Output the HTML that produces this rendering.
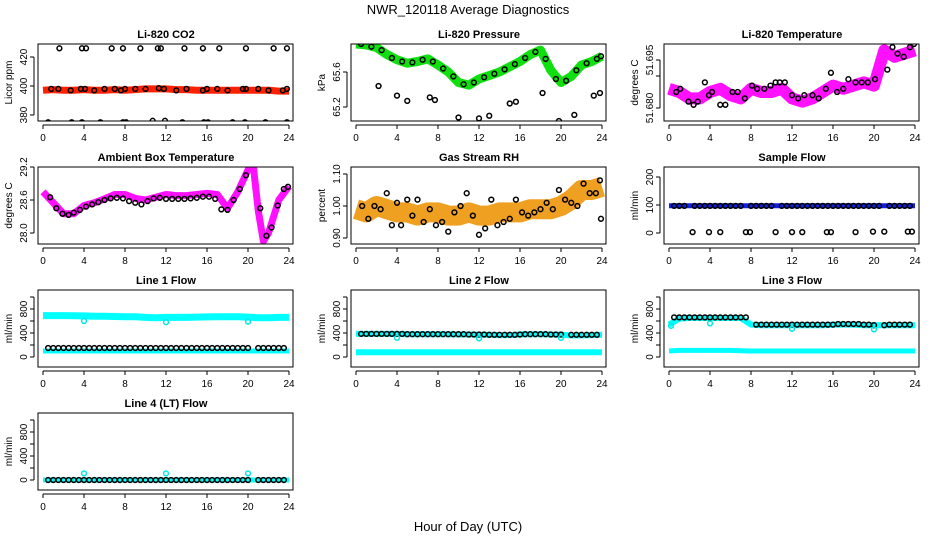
<!DOCTYPE html>
<html><head><meta charset="utf-8"><title>NWR_120118 Average Diagnostics</title>
<style>
html,body{margin:0;padding:0;background:#fff;}
svg{display:block;font-family:"Liberation Sans",sans-serif;}
</style></head>
<body>
<svg id="chart" width="936" height="540" viewBox="0 0 936 540" xmlns="http://www.w3.org/2000/svg">
<defs id="defs"></defs>
<text x="468" y="14" font-size="13" text-anchor="middle">NWR_120118  Average Diagnostics</text>
<text x="468" y="531" font-size="13" text-anchor="middle">Hour of Day (UTC)</text>
</svg>
<script>
// ---- shared categories ----
const H = [0,1,2,3,4,5,6,7,8,9,10,11,12,13,14,15,16,17,18,19,20,21,22,23,24];
const HH = [0.5,1,1.5,2,2.5,3,3.5,4,4.5,5,5.5,6,6.5,7,7.5,8,8.5,9,9.5,10,10.5,11,11.5,12,12.5,13,13.5,14,14.5,15,15.5,16,16.5,17,17.5,18,18.5,19,19.5,20,20.5,21,21.5,22,22.5,23,23.5];
const xTicks = [0,4,8,12,16,20,24];

// ---- CO2 ----
const co2Band = [397,397.5,397,397,397.5,397,397,397.5,397,397.5,398,398,398,397.5,397.5,397,397,397,397,397,397,397,397,396.5,396.5];
const co2BlackH = [0.8,1.5,2.7,3.7,4.1,5,6,7,7.6,8,9,10,11.3,11.8,13,14,15.6,16,17,18,19.5,19.8,21,22,23.4,23.8,1.6,3.8,4.2,6.7,7.8,9.5,11.2,11.5,13.8,15.6,17.2,19.8,22.5,23.8,0.5,2.8,3.8,5.6,7.8,8.1,10.7,11.9,13.6,15.7,16.1,18.5,19.7,21.7,23.8];
const co2BlackV = [398,398,397,398,398,397,398,398,397,398,398,398,398.5,398,397,398,397,398,398,397,398,398,398,397,397,398,426,426,426,426,426,426,426,426,426,426,426,426,426,426,375,375,375,375,375,375,376,376,375,375,375,375,375,375,375];
const co2Ticks = [380,400,420];

// ---- Pressure ----
const presBand = [65.92,65.91,65.88,65.8,65.74,65.7,65.72,65.75,65.68,65.6,65.48,65.45,65.52,65.56,65.6,65.66,65.72,65.8,65.85,65.62,65.48,65.55,65.68,65.72,65.78];
const presBlackH = [0.5,1.5,2.5,3.5,4.5,5.5,6.5,7.5,8.5,9.5,10.5,11.5,12.5,13.5,14.5,15.5,16.5,17.5,18.5,19.5,20.5,21.5,22.5,23.5,23.9,2.2,4,5,7.2,7.7,10,12,13,15,15.6,18.2,19.8,21.3,23.2,23.8];
const presBlackV = [65.92,65.89,65.85,65.76,65.72,65.71,65.74,65.72,65.64,65.55,65.46,65.48,65.54,65.58,65.63,65.69,65.76,65.83,65.75,65.52,65.5,65.62,65.7,65.75,65.78,65.44,65.33,65.27,65.31,65.28,65.08,65.07,65.1,65.24,65.26,65.36,65.04,65.11,65.33,65.36];
const presTicks = [65.2,65.6];

// ---- Li-820 Temperature ----
const tempBand = [51.686,51.685,51.683,51.683,51.685,51.686,51.684,51.683,51.686,51.685,51.685,51.686,51.683,51.682,51.683,51.685,51.687,51.686,51.687,51.688,51.687,51.698,51.696,51.697,51.698];
const tempBlackH = [0.7,1.1,1.9,2.4,2.8,3.5,3.9,4.2,5,5.5,6.2,6.7,7.4,8.1,8.6,9.3,9.9,10.4,10.8,11.3,12,12.6,13.2,14,14.6,15.3,15.8,16.4,17,17.5,18.2,18.8,19.4,20.1,21.3,21.8,22.3,22.9,23.5,23.9];
const tempBlackV = [51.685,51.686,51.682,51.681,51.682,51.688,51.684,51.685,51.681,51.681,51.685,51.685,51.683,51.687,51.686,51.686,51.687,51.688,51.688,51.688,51.684,51.683,51.684,51.684,51.683,51.686,51.691,51.685,51.686,51.689,51.688,51.688,51.688,51.689,51.692,51.699,51.697,51.696,51.699,51.700];
const tempTicks = [51.680,51.695];
const tempMinor = [51.680,51.690,51.695];

// ---- Ambient Box Temperature ----
const ambH = [0,1,2,3,4,5,6,7,8,9,10,11,12,13,14,15,16,17,18,19,20,20.5,21,21.5,22,23,24];
const ambBand = [28.75,28.55,28.35,28.35,28.5,28.55,28.62,28.7,28.7,28.63,28.6,28.65,28.7,28.68,28.68,28.7,28.72,28.7,28.45,28.75,29.15,29.25,28.4,27.85,28.0,28.6,28.85];
const ambBlackH = [0.7,1.3,1.9,2.5,3,3.6,4.2,4.8,5.4,6,6.6,7.2,7.8,8.4,9,9.6,10.2,10.8,11.4,12,12.6,13.2,13.8,14.4,15,15.6,16.2,16.8,17.4,18,18.6,19.2,19.8,21.2,21.8,22.3,22.9,23.5,23.9];
const ambBlackV = [28.65,28.45,28.35,28.33,28.37,28.42,28.48,28.52,28.56,28.6,28.63,28.64,28.63,28.58,28.55,28.52,28.58,28.63,28.64,28.62,28.62,28.62,28.62,28.63,28.64,28.66,28.66,28.62,28.43,28.42,28.6,28.8,29.05,28.45,27.95,28.1,28.5,28.8,28.84];
const ambTicks = [28.0,28.6,29.2];

// ---- Gas Stream RH ----
const rhBand = [0.99,0.98,1.0,0.99,0.98,0.98,0.97,0.98,0.98,0.97,0.97,0.98,0.97,0.97,0.98,0.98,0.98,0.99,0.99,0.99,1.0,1.02,1.05,1.05,1.06];
const rhBlackH = [0.6,1.2,1.8,2.4,3,3.5,4,4.4,5,5.5,6,6.6,7.2,7.8,8.4,9,9.6,10.2,10.8,11.4,12,12.6,13.2,13.8,14.4,15,15.6,16.2,16.8,17.4,18,18.6,19.2,19.8,20.4,21,21.6,22.2,22.8,23.4,23.8,23.9];
const rhBlackV = [1.0,0.96,1.0,0.99,1.04,0.94,1.01,0.94,1.02,0.97,1.02,0.95,0.99,0.94,0.95,0.92,0.98,1.0,1.04,0.97,0.91,0.93,1.02,0.94,0.95,0.96,1.02,0.98,0.97,0.98,0.99,1.01,0.99,1.05,1.02,1.01,1.0,1.07,1.04,1.04,1.08,0.96];
const rhTicks = [0.90,1.00,1.10];

// ---- Sample Flow ----
const sfBand = [97,97,97,97,97,97,97,97,97,97,97,97,97,97,97,97,97,97,97,97,97,97,97,97,97];
const sfBlack = [97,97,97,null,97,97,97,97,97,97,97,97,97,97,null,97,97,97,97,97,null,97,97,97,97,97,97,97,97,97,97,97,97,97,97,97,97,97,97,97,97,null,97,97,97,97,97];
const sfZeroH = [2.3,3.9,5,7.5,7.9,10.4,12,13,15.4,15.8,18.2,19.9,21,23.3,23.7];
const sfZeroV = [3,3,3,3,3,3,3,3,3,3,3,5,5,5,5];
const sfTicks = [0,100,200];

// ---- Line flows ----
const l1Upper = [690,690,690,688,685,680,678,675,672,670,660,655,660,660,660,665,668,670,670,670,665,655,655,660,660];
const l1Lower = [100,100,100,100,100,100,100,100,100,100,100,100,100,100,100,100,100,100,100,100,100,100,100,100,100];
const l1Black = [150,150,150,150,150,150,150,150,150,150,150,150,150,150,150,150,150,150,150,150,150,150,150,150,150,150,150,150,150,150,150,150,150,150,150,150,150,150,150,150,null,150,150,150,150,150,150];
const l1OutH = [4,12,20];
const l1OutV = [600,580,590];

const l2Upper = [385,385,385,385,385,380,380,380,380,380,375,375,370,370,365,365,375,380,380,375,370,360,360,365,370];
const l2Lower = [80,80,80,80,80,80,80,80,80,80,80,80,80,80,80,80,80,80,80,80,80,80,80,80,80];
const l2Black = [385,385,385,385,385,385,385,385,385,380,380,380,380,380,380,380,380,380,380,380,380,375,375,375,375,370,370,370,370,370,370,375,380,380,380,380,380,375,375,375,null,370,370,370,370,370,370];
const l2OutH = [4,12,20];
const l2OutV = [320,310,320];

const l3Upper = [540,640,650,650,650,650,650,650,540,530,530,530,530,530,530,530,540,540,540,530,530,530,530,530,530];
const l3Lower = [100,110,110,110,110,110,110,105,100,100,100,100,100,100,100,100,100,100,100,100,100,100,100,100,100];
const l3Black = [660,660,660,660,660,660,660,660,660,660,660,660,660,660,660,null,540,540,540,540,540,540,540,540,540,540,540,540,540,540,540,540,550,550,550,550,550,540,540,530,null,530,540,540,540,540,540];
const l3OutH = [0.2,4,12,20];
const l3OutV = [520,560,470,460];

const l4Band = [0,0,0,0,0,0,0,0,0,0,0,0,0,0,0,0,0,0,0,0,0,0,0,0,0];
const l4Black = [0,0,0,0,0,0,0,0,0,0,0,0,0,0,0,0,0,0,0,0,0,0,0,0,0,0,0,0,0,0,0,0,0,0,0,0,0,0,0,0,null,0,0,0,0,0,0];
const l4OutH = [4,12,20];
const l4OutV = [110,110,110];
const flowTicks = [0,400,800];
const flowMinor = [0,200,400,600,800,1000];

// ---- layout ----
const svg = document.getElementById('chart');
const defs = document.getElementById('defs');
const NS = 'http://www.w3.org/2000/svg';
const COLX = [43,356,669];
const ROWY = [[44,121],[167,244],[290,367],[413,490]];
function mk(tag, attrs, parent){ const e=document.createElementNS(NS,tag); for(const k in attrs) e.setAttribute(k,attrs[k]); (parent||svg).appendChild(e); return e; }

function panel(col,row,key,title,ylab,yA,pA,yB,pB,ticks,minor,tickLabels){
  const x0=COLX[col], x1=x0+246, top=ROWY[row][0], bot=ROWY[row][1];
  const g=mk('g',{});
  
  
  const sx=h=>x0+(x1-x0)*h/24;
  const sy=v=>pA+(v-yA)*(pB-pA)/(yB-yA);
  const cp=mk('clipPath',{id:'clip-'+key},defs);
  mk('rect',{x:x0-5,y:top,width:x1-x0+9,height:bot-top},cp);
  const data=mk('g',{'clip-path':'url(#clip-'+key+')'},g);
  
  
  const box=mk('rect',{x:x0-5,y:top,width:x1-x0+9,height:bot-top,fill:'none',stroke:'#000','stroke-width':1},g);
  
  
  const t=mk('text',{x:(x0+x1)/2,y:top-6,'font-size':11,'font-weight':'bold','text-anchor':'middle'},g);
  t.textContent=title;
  
  
  const xa=mk('g',{},g);
  
  
  mk('line',{x1:sx(0),x2:sx(24),y1:bot+4,y2:bot+4,stroke:'#000'},xa);
  xTicks.forEach(h=>{
    mk('line',{x1:sx(h),x2:sx(h),y1:bot+4,y2:bot+8,stroke:'#000'},xa);
    const l=mk('text',{x:sx(h),y:bot+20,'font-size':10,'text-anchor':'middle'},xa);
    l.textContent=h;
    
    
  });
  const ya=mk('g',{},g);
  
  
  const mt=minor||ticks;
  const yl=x0-9;
  mk('line',{x1:yl,x2:yl,y1:sy(mt[0]),y2:sy(mt[mt.length-1]),stroke:'#000'},ya);
  mt.forEach(v=>mk('line',{x1:yl-4,x2:yl,y1:sy(v),y2:sy(v),stroke:'#000'},ya));
  ticks.forEach((v,i)=>{
    const yy=sy(v);
    const l=mk('text',{x:0,y:0,'font-size':10,'text-anchor':'middle',transform:`translate(${yl-7},${yy}) rotate(-90)`},ya);
    l.textContent=tickLabels?tickLabels[i]:v;
    
    
  });
  const yt=mk('text',{x:0,y:0,'font-size':10,'text-anchor':'middle',transform:`translate(${x0-31},${(top+bot)/2}) rotate(-90)`},g);
  yt.textContent=ylab;
  
  
  return {g:data,sx,sy};
}
function band(p,name,hs,vs,color,w){
  const pts=hs.map((h,i)=>vs[i]==null?null:p.sx(h).toFixed(1)+','+p.sy(vs[i]).toFixed(1)).filter(x=>x).join(' ');
  const pl=mk('polyline',{points:pts,fill:'none',stroke:color,'stroke-width':w,'stroke-linejoin':'round','stroke-linecap':'butt'},p.g);
  
  
}
function pts(p,name,hs,vs,color){
  const g=mk('g',{},p.g);
  
  
  hs.forEach((h,i)=>{ if(vs[i]==null) return;
    const c=mk('circle',{cx:p.sx(h),cy:p.sy(vs[i]),r:2.4,fill:'none',stroke:color,'stroke-width':1.5},g);
    
    
  });
}

let p;
p=panel(0,0,'co2','Li-820 CO2','Licor ppm',400,86,420,57,co2Ticks);
band(p,'co2-band',H,co2Band,'#ff2000',7); pts(p,'co2-points',co2BlackH,co2BlackV,'#000');

p=panel(1,0,'pressure','Li-820 Pressure','kPa',65.6,72,65.2,107,presTicks);
band(p,'pressure-band',H,presBand,'#10e010',9); pts(p,'pressure-points',presBlackH,presBlackV,'#000');

p=panel(2,0,'li820-temp','Li-820 Temperature','degrees C',51.695,60,51.680,108,tempTicks,tempMinor,['51.680','51.695']);
band(p,'li820-temp-band',H,tempBand,'#ff10ff',12); pts(p,'li820-temp-points',tempBlackH,tempBlackV,'#000');

p=panel(0,1,'ambient','Ambient Box Temperature','degrees C',28.6,200,28.0,233,ambTicks,null,['28.0','28.6','29.2']);
band(p,'ambient-band',ambH,ambBand,'#ff10ff',7); pts(p,'ambient-points',ambBlackH,ambBlackV,'#000');

p=panel(1,1,'gas-rh','Gas Stream RH','percent',1.0,206,1.1,174,rhTicks,null,['0.90','1.00','1.10']);
band(p,'gas-rh-band',H,rhBand,'#f0a020',20); pts(p,'gas-rh-points',rhBlackH,rhBlackV,'#000');

p=panel(2,1,'sample-flow','Sample Flow','ml/min',0,233,200,177,sfTicks);
band(p,'sample-flow-band',H,sfBand,'#1020e0',5); pts(p,'sample-flow-points',HH,sfBlack,'#000'); pts(p,'sample-flow-zero-points',sfZeroH,sfZeroV,'#000');

p=panel(0,2,'line1','Line 1 Flow','ml/min',0,357,800,309,flowTicks,flowMinor);
band(p,'line1-upper-band',H,l1Upper,'#00ffff',7); band(p,'line1-lower-band',H,l1Lower,'#00ffff',5);
pts(p,'line1-points',HH,l1Black,'#000'); pts(p,'line1-outliers',l1OutH,l1OutV,'#00e8e8');

p=panel(1,2,'line2','Line 2 Flow','ml/min',0,357,800,309,flowTicks,flowMinor);
band(p,'line2-upper-band',H,l2Upper,'#00ffff',6); band(p,'line2-lower-band',H,l2Lower,'#00ffff',6);
pts(p,'line2-points',HH,l2Black,'#000'); pts(p,'line2-outliers',l2OutH,l2OutV,'#00e8e8');

p=panel(2,2,'line3','Line 3 Flow','ml/min',0,357,800,309,flowTicks,flowMinor);
band(p,'line3-upper-band',H,l3Upper,'#00ffff',6); band(p,'line3-lower-band',H,l3Lower,'#00ffff',5);
pts(p,'line3-points',HH,l3Black,'#000'); pts(p,'line3-outliers',l3OutH,l3OutV,'#00e8e8');

p=panel(0,3,'line4','Line 4 (LT) Flow','ml/min',0,480,800,432,flowTicks,flowMinor);
band(p,'line4-band',H,l4Band,'#00ffff',5);
pts(p,'line4-points',HH,l4Black,'#000'); pts(p,'line4-outliers',l4OutH,l4OutV,'#00e8e8');
</script>
</body></html>
